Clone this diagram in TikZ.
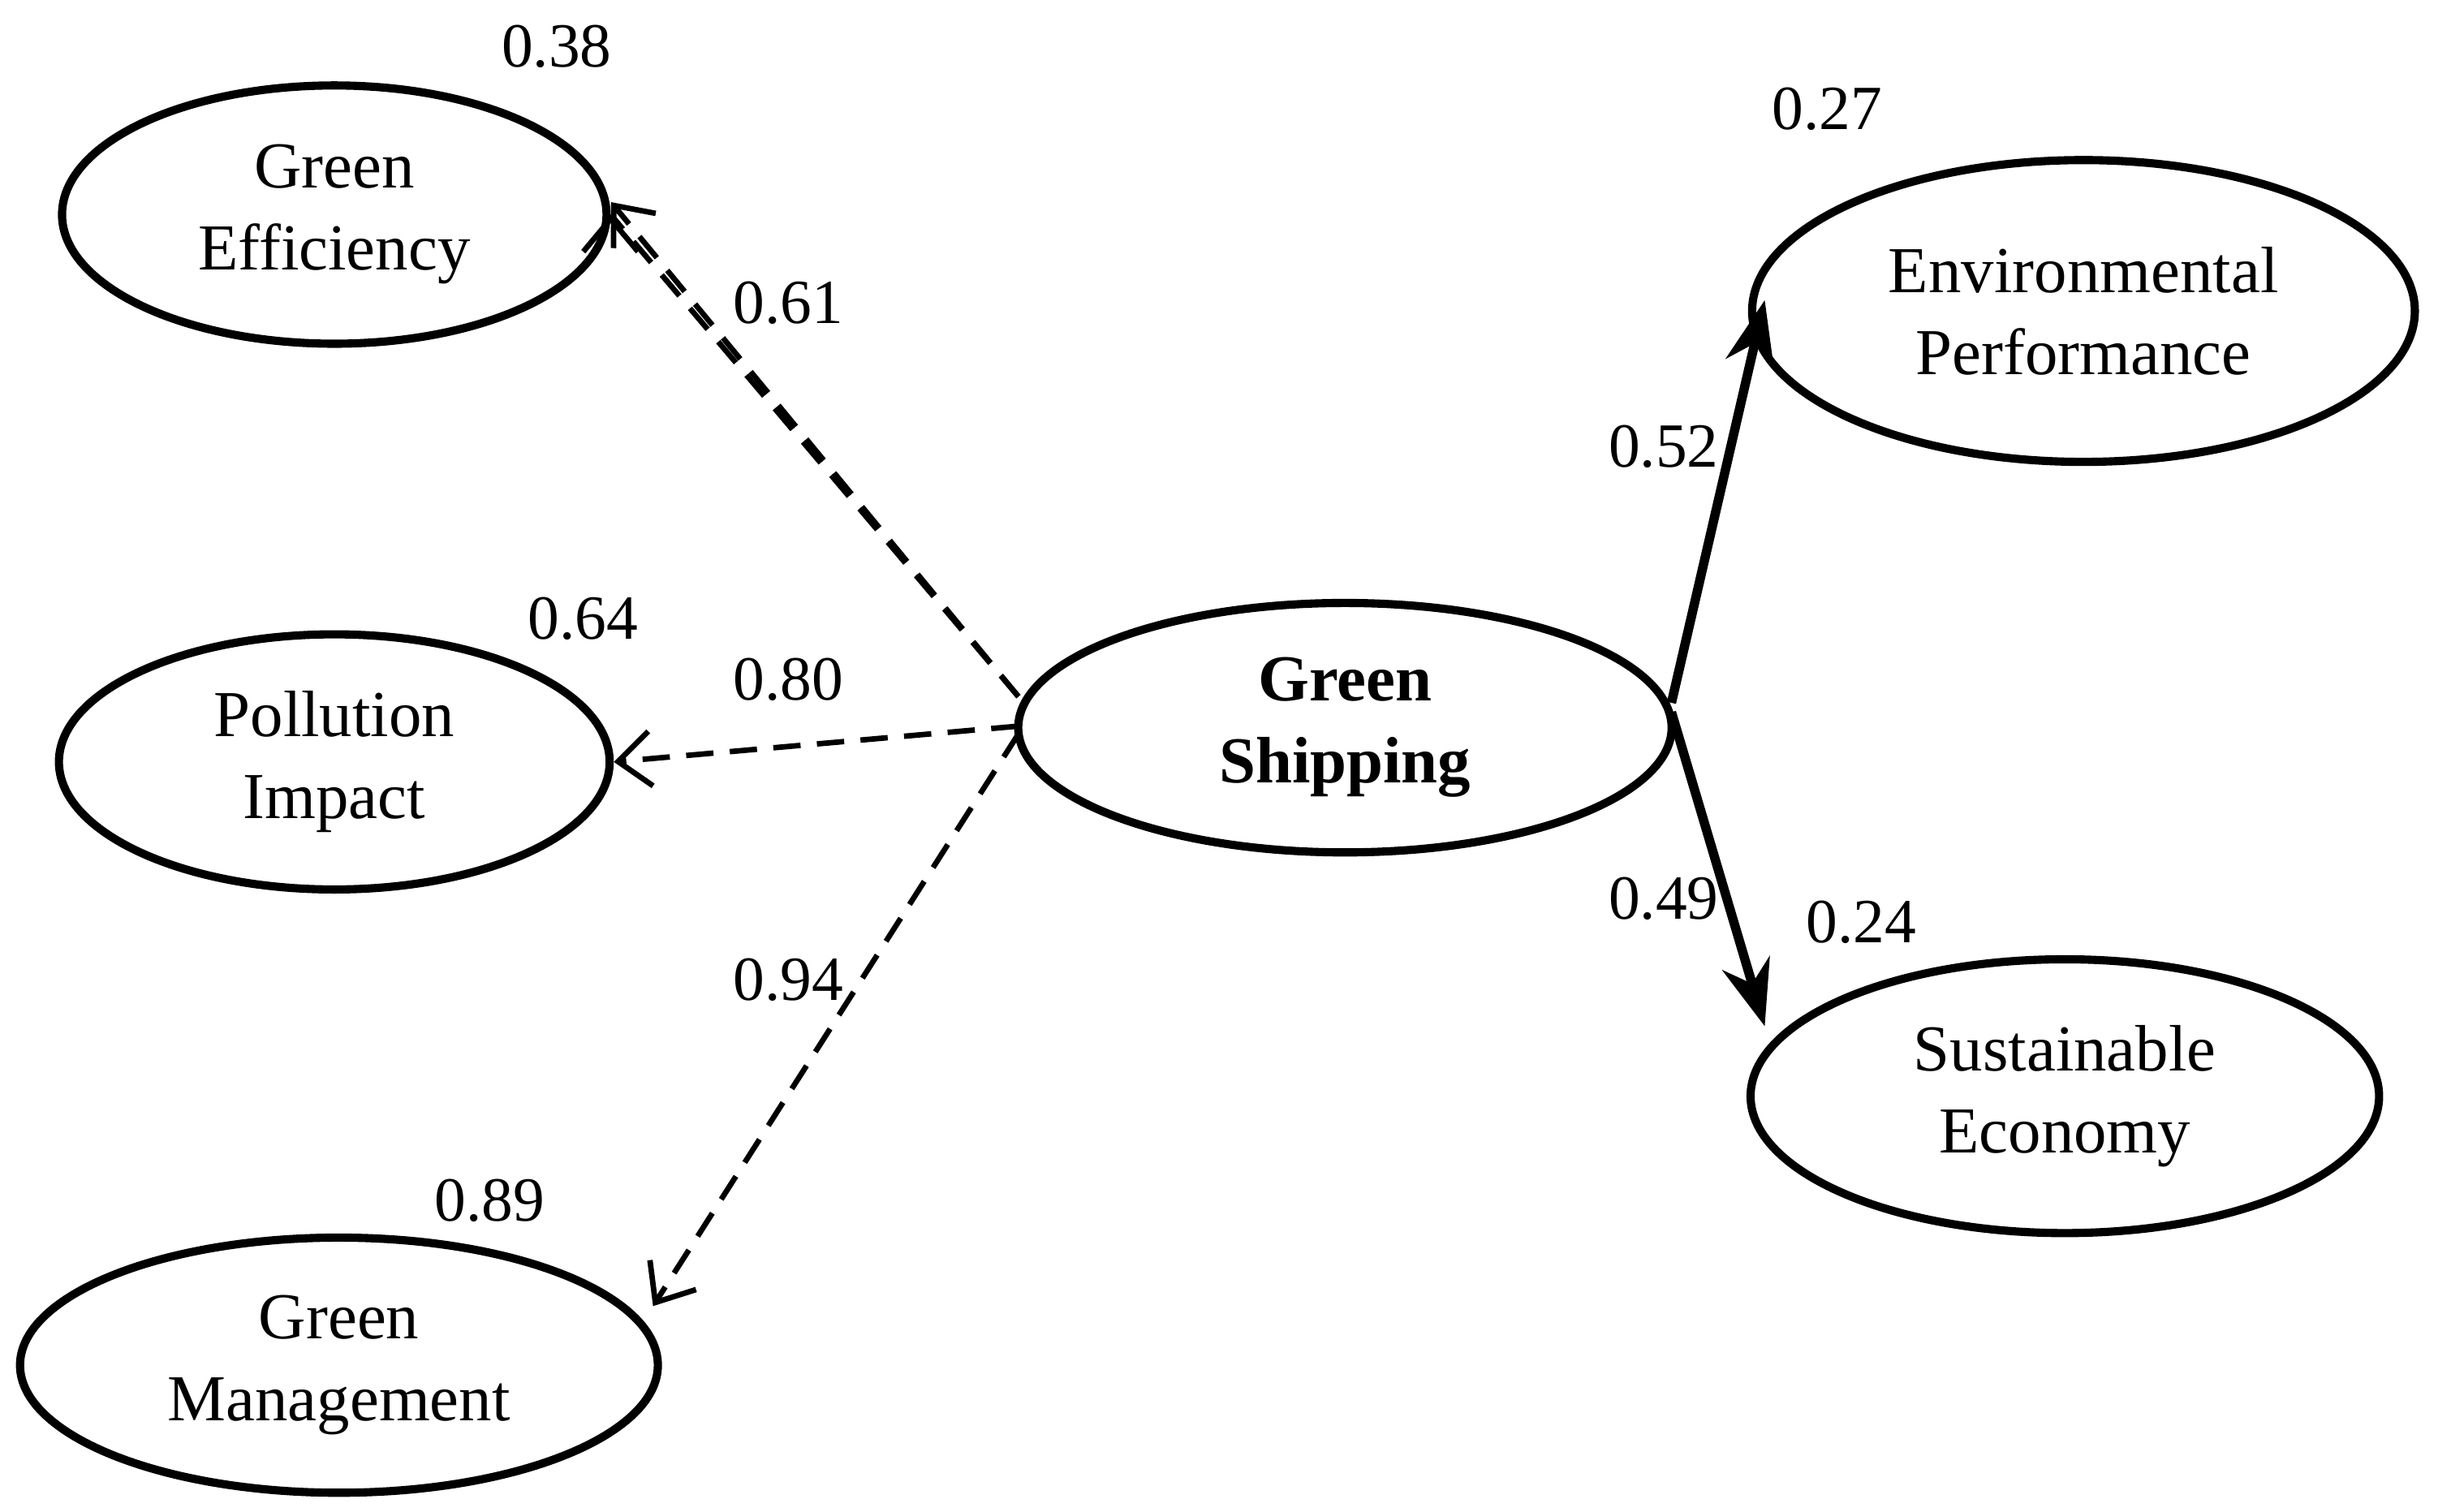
\documentclass[tikz,border=0pt]{standalone}
\usepackage{fontspec}
\setmainfont{Liberation Serif}
\usetikzlibrary{shapes.geometric,arrows.meta}
\begin{document}
\begin{tikzpicture}[x=0.01cm,y=-0.01cm,
 el/.style={draw,ellipse,line width=1.5pt,minimum width=#1,align=center,font=\fontsize{12}{15}\selectfont},
 num/.style={font=\fontsize{11.5}{13}\selectfont},
 dsh/.style={dashed,line width=1pt,dash pattern=on 5pt off 3pt,-{Straight Barb[length=6pt,width=10pt]}},
 sol/.style={line width=1.7pt,-{Stealth[length=12pt,width=9pt]}}]
\useasboundingbox (0,0) rectangle (1568,972);
\node[el=3.5cm,minimum height=1.66cm] (ge) at (215,138) {Green\\Efficiency};
\node[el=3.54cm,minimum height=1.64cm] (pi) at (215,490) {Pollution\\Impact};
\node[el=4.1cm,minimum height=1.64cm] (gm) at (218,878) {Green\\Management};
\node[el=4.2cm,minimum height=1.5cm,font=\fontsize{12}{15}\selectfont\bfseries] (gs) at (865,468) {Green\\Shipping};
\node[el=4.26cm,minimum height=1.94cm] (ep) at (1340,200) {Environmental\\Performance};
\node[el=4.04cm,minimum height=1.76cm] (se) at (1328,705) {Sustainable\\Economy};
\coordinate (a1) at (655,448); \coordinate (a2) at (655,467); \coordinate (a3) at (655,472);
\coordinate (b1) at (1075,452); \coordinate (b2) at (1075,458);
\draw[dsh] (a1) -- (ge.east|-ge.east) ++(0,0);
\draw[dsh] (a1) -- (393,130);
\draw[dsh] (a2) -- (pi.east);
\draw[dsh] (a3) -- (420,840);
\draw[sol] (b1) -- (1135,193);
\draw[sol] (b2) -- (1135,660);
\node[num] at (358,30) {0.38};
\node[num] at (507,195) {0.61};
\node[num] at (375,398) {0.64};
\node[num] at (507,437) {0.80};
\node[num] at (507,630) {0.94};
\node[num] at (315,772) {0.89};
\node[num] at (1175,70) {0.27};
\node[num] at (1070,287) {0.52};
\node[num] at (1070,578) {0.49};
\node[num] at (1197,593) {0.24};
\end{tikzpicture}
\end{document}
